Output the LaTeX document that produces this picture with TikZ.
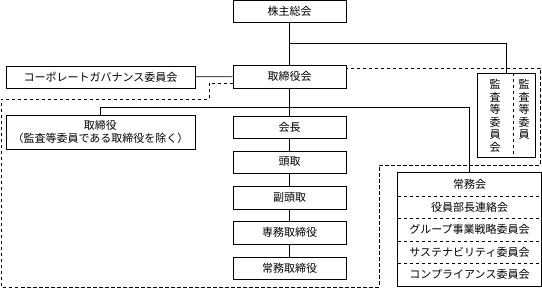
\documentclass[tikz,border=0pt]{standalone}
\usepackage{fontspec}
\setmainfont{Noto Sans CJK JP}
\usetikzlibrary{positioning}
\newcommand{\jpfont}{\fontsize{11}{12.6}\selectfont}
\tikzset{
  box/.style    ={rectangle,draw,minimum width=113pt,minimum height=22pt,
                  inner sep=0pt,align=center,font=\jpfont},
  widebox/.style={box,minimum width=189pt},
  row/.style    ={rectangle,minimum width=143pt,minimum height=22.6pt,
                  inner sep=0pt,font=\jpfont},
  vtext/.style  ={anchor=north,inner sep=0pt,align=center,font=\jpfont},
  bound/.style  ={dash pattern=on 3.5pt off 2.5pt},
  every path/.style={line width=0.7pt}
}

\begin{document}
\begin{tikzpicture}[x=1pt,y=-1pt]
  \useasboundingbox (0,0) rectangle (542,288);

  % Boundary
  \draw[bound] (233,83) -- (209,83) -- (209,99) -- (1,99) -- (1,287)
    -- (379,287) -- (379,165) -- (540,165) -- (540,68) -- (346,68);

  % Main column
  \node (kabu)   at (289.5, 11.5)  [box] {株主総会};
  \node (torikai) at (289.5, 76.5) [box,minimum height=23pt] {取締役会};
  \node (kaicho) at (289.5, 127)   [box] {会長};
  \node (todori) at (289.5, 162)   [box] {頭取};
  \node (fuku)   at (289.5, 197.5) [box,minimum height=23pt] {副頭取};
  \node (senmu)  at (289.5, 232.5) [box,minimum height=23pt] {専務取締役};
  \node (jomu)   at (289.5, 268)   [box] {常務取締役};

  % Left side
  \node (cg)   at (100.5, 77)  [widebox] {コーポレートガバナンス委員会};
  \node (tori) at (100.5, 132) [widebox,minimum height=34pt]
    {取締役\\（監査等委員である取締役を除く）};

  % Audit committee
  \node (kansa) at (506, 115) [rectangle,draw,minimum width=58pt,
                               minimum height=84pt] {};
  \coordinate (kdiv) at (513, 0);
  \draw[bound] (kansa.north -| kdiv) -- (kansa.south -| kdiv);
  \node (kansa1) at (495, 79) [vtext] {監\\査\\等\\委\\員\\会};
  \node (kansa2) at (524, 79) [vtext] {監\\査\\等\\委\\員};

  % Meeting bodies
  \node (r1) at (469.5, 184.3) [row] {常務会};
  \node (r2) at (469.5, 206.9) [row] {役員部長連絡会};
  \node (r3) at (469.5, 229.5) [row] {グループ事業戦略委員会};
  \node (r4) at (469.5, 252.1) [row] {サステナビリティ委員会};
  \node (r5) at (469.5, 274.7) [row] {コンプライアンス委員会};
  \draw (r1.north west) rectangle (r5.south east);
  \foreach \a in {r1,r2,r3,r4}
    \draw[bound] (\a.south west) -- (\a.south east);

  % Lines
  \coordinate (br) at (289.5, 43);
  \coordinate (hb) at (289.5, 107);
  \draw (kabu) -- (torikai);
  \draw (br) -| (kansa.north);
  \draw (cg) -- (torikai);
  \draw (torikai) -- (kaicho);
  \draw (kaicho) -- (todori);
  \draw (todori) -- (fuku);
  \draw (fuku) -- (senmu);
  \draw (senmu) -- (jomu);
  \draw (tori.north) |- (r1.north |- hb) -- (r1.north);
\end{tikzpicture}
\end{document}
